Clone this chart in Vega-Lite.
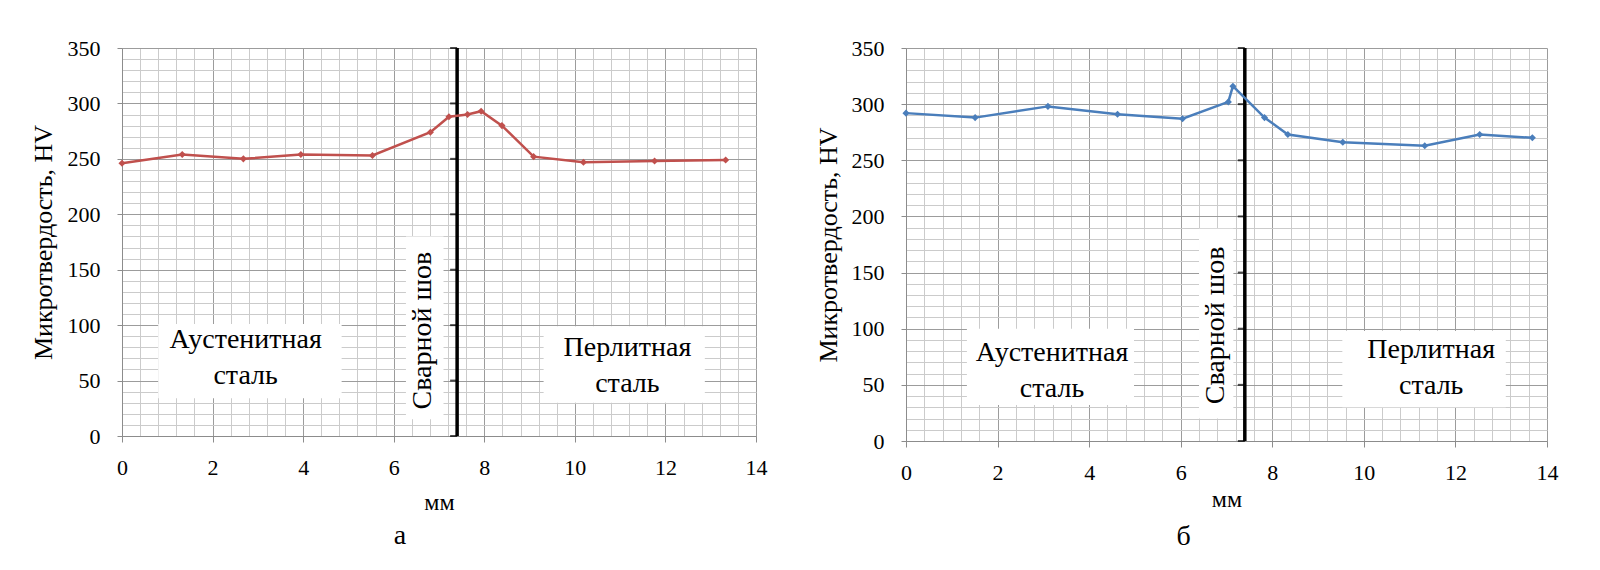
{
  "$schema": "https://vega.github.io/schema/vega-lite/v6.json",
  "background": "white",
  "padding": {"left": 30, "top": 37, "right": 5, "bottom": 5},
  "spacing": 48,
  "datasets": {
    "a": [
      {"mm": 0, "hv": 246}, {"mm": 1.33, "hv": 254}, {"mm": 2.68, "hv": 250},
      {"mm": 3.95, "hv": 254}, {"mm": 5.53, "hv": 253}, {"mm": 6.81, "hv": 274},
      {"mm": 7.22, "hv": 288}, {"mm": 7.63, "hv": 290}, {"mm": 7.93, "hv": 293},
      {"mm": 8.39, "hv": 280}, {"mm": 9.09, "hv": 252}, {"mm": 10.19, "hv": 247},
      {"mm": 11.76, "hv": 248}, {"mm": 13.33, "hv": 249}
    ],
    "b": [
      {"mm": 0, "hv": 292}, {"mm": 1.51, "hv": 288}, {"mm": 3.1, "hv": 298},
      {"mm": 4.62, "hv": 291}, {"mm": 6.04, "hv": 287}, {"mm": 7.04, "hv": 302},
      {"mm": 7.14, "hv": 316}, {"mm": 7.83, "hv": 288}, {"mm": 8.34, "hv": 273},
      {"mm": 9.54, "hv": 266}, {"mm": 11.33, "hv": 263}, {"mm": 12.53, "hv": 273},
      {"mm": 13.68, "hv": 270}
    ],
    "hvTicks": [
      {"hv": 0}, {"hv": 50}, {"hv": 100}, {"hv": 150},
      {"hv": 200}, {"hv": 250}, {"hv": 300}, {"hv": 350}
    ],
    "one": [{"n": 1}]
  },
  "hconcat": [
    {
      "width": 634,
      "height": 388,
      "title": {"text": "а", "orient": "bottom", "anchor": "middle", "fontSize": 28, "fontWeight": "normal", "font": "Liberation Serif", "color": "black", "offset": 8, "dx": -39},
      "encoding": {
        "x": {
          "type": "quantitative",
          "scale": {"domain": [0, 14], "nice": false},
          "axis": {
            "title": "мм", "titlePadding": 12, "format": "~g", "grid": true,
            "values": [0, 0.4, 0.8, 1.2, 1.6, 2, 2.4, 2.8, 3.2, 3.6, 4, 4.4, 4.8, 5.2, 5.6, 6, 6.4, 6.8, 7.2, 7.6, 8, 8.4, 8.8, 9.2, 9.6, 10, 10.4, 10.8, 11.2, 11.6, 12, 12.4, 12.8, 13.2, 13.6, 14],
            "labelExpr": "datum.value % 2 === 0 ? datum.label : ''",
            "gridColor": {"condition": {"test": "datum.value % 2 === 0", "value": "#9c9c9c"}, "value": "#cbcbcb"},
            "tickColor": {"condition": {"test": "datum.value % 2 === 0", "value": "#8c8c8c"}, "value": "transparent"},
            "tickSize": 6, "labelPadding": 15
          }
        },
        "y": {
          "type": "quantitative",
          "scale": {"domain": [0, 350], "nice": false},
          "axis": {
            "title": "Микротвердость, HV", "titlePadding": 11, "format": "d", "grid": true,
            "values": [0, 10, 20, 30, 40, 50, 60, 70, 80, 90, 100, 110, 120, 130, 140, 150, 160, 170, 180, 190, 200, 210, 220, 230, 240, 250, 260, 270, 280, 290, 300, 310, 320, 330, 340, 350],
            "labelExpr": "datum.value % 50 === 0 ? datum.label : ''",
            "gridColor": {"condition": {"test": "datum.value % 50 === 0", "value": "#9c9c9c"}, "value": "#cbcbcb"},
            "tickColor": {"condition": {"test": "datum.value % 50 === 0", "value": "#8c8c8c"}, "value": "transparent"},
            "tickSize": 5, "labelPadding": 17
          }
        }
      },
      "layer": [
        {
          "data": {"name": "one"},
          "mark": {"type": "rect", "fill": "white"},
          "encoding": {"x": {"datum": 0.8}, "x2": {"datum": 4.85}, "y": {"datum": 101}, "y2": {"datum": 34}}
        },
        {
          "data": {"name": "one"},
          "mark": {"type": "rect", "fill": "white"},
          "encoding": {"x": {"datum": 6.27}, "x2": {"datum": 7.1}, "y": {"datum": 180}, "y2": {"datum": 15}}
        },
        {
          "data": {"name": "one"},
          "mark": {"type": "rect", "fill": "white"},
          "encoding": {"x": {"datum": 9.31}, "x2": {"datum": 12.87}, "y": {"datum": 99}, "y2": {"datum": 30}}
        },
        {
          "data": {"name": "one"},
          "mark": {"type": "rule", "color": "black", "strokeWidth": 3.5},
          "encoding": {"x": {"datum": 7.4}, "y": {"datum": 0}, "y2": {"datum": 350}}
        },
        {
          "data": {"name": "hvTicks"},
          "mark": {"type": "tick", "orient": "horizontal", "color": "black", "size": 7, "thickness": 2, "xOffset": -3.5},
          "encoding": {"x": {"datum": 7.4}, "y": {"field": "hv"}}
        },
        {
          "data": {"name": "a"},
          "mark": {"type": "line", "color": "#C0504D", "strokeWidth": 2.5, "point": {"shape": "diamond", "size": 50, "filled": true, "color": "#C0504D"}},
          "encoding": {"x": {"field": "mm"}, "y": {"field": "hv"}}
        },
        {
          "data": {"name": "one"},
          "mark": {"type": "text", "font": "Liberation Serif", "fontSize": 28, "lineBreak": "\n", "lineHeight": 36, "align": "center", "baseline": "middle", "color": "black"},
          "encoding": {"x": {"datum": 2.73}, "y": {"datum": 86.5}, "text": {"value": "Аустенитная\nсталь"}}
        },
        {
          "data": {"name": "one"},
          "mark": {"type": "text", "font": "Liberation Serif", "fontSize": 28, "angle": 270, "align": "center", "baseline": "middle", "color": "black"},
          "encoding": {"x": {"datum": 6.65}, "y": {"datum": 95}, "text": {"value": "Сварной шов"}}
        },
        {
          "data": {"name": "one"},
          "mark": {"type": "text", "font": "Liberation Serif", "fontSize": 28, "lineBreak": "\n", "lineHeight": 36, "align": "center", "baseline": "middle", "color": "black"},
          "encoding": {"x": {"datum": 11.16}, "y": {"datum": 79.5}, "text": {"value": "Перлитная\nсталь"}}
        }
      ]
    },
    {
      "width": 641,
      "height": 393,
      "title": {"text": "б", "orient": "bottom", "anchor": "middle", "fontSize": 28, "fontWeight": "normal", "font": "Liberation Serif", "color": "black", "offset": 12, "dx": -43},
      "encoding": {
        "x": {
          "type": "quantitative",
          "scale": {"domain": [0, 14], "nice": false},
          "axis": {
            "title": "мм", "titlePadding": 4, "format": "~g", "grid": true,
            "values": [0, 0.4, 0.8, 1.2, 1.6, 2, 2.4, 2.8, 3.2, 3.6, 4, 4.4, 4.8, 5.2, 5.6, 6, 6.4, 6.8, 7.2, 7.6, 8, 8.4, 8.8, 9.2, 9.6, 10, 10.4, 10.8, 11.2, 11.6, 12, 12.4, 12.8, 13.2, 13.6, 14],
            "labelExpr": "datum.value % 2 === 0 ? datum.label : ''",
            "gridColor": {"condition": {"test": "datum.value % 2 === 0", "value": "#9c9c9c"}, "value": "#cbcbcb"},
            "tickColor": {"condition": {"test": "datum.value % 2 === 0", "value": "#8c8c8c"}, "value": "transparent"},
            "tickSize": 6, "labelPadding": 15
          }
        },
        "y": {
          "type": "quantitative",
          "scale": {"domain": [0, 350], "nice": false},
          "axis": {
            "title": "Микротвердость, HV", "titlePadding": 10, "format": "d", "grid": true,
            "values": [0, 10, 20, 30, 40, 50, 60, 70, 80, 90, 100, 110, 120, 130, 140, 150, 160, 170, 180, 190, 200, 210, 220, 230, 240, 250, 260, 270, 280, 290, 300, 310, 320, 330, 340, 350],
            "labelExpr": "datum.value % 50 === 0 ? datum.label : ''",
            "gridColor": {"condition": {"test": "datum.value % 50 === 0", "value": "#9c9c9c"}, "value": "#cbcbcb"},
            "tickColor": {"condition": {"test": "datum.value % 50 === 0", "value": "#8c8c8c"}, "value": "transparent"},
            "tickSize": 5, "labelPadding": 17
          }
        }
      },
      "layer": [
        {
          "data": {"name": "one"},
          "mark": {"type": "rect", "fill": "white"},
          "encoding": {"x": {"datum": 1.33}, "x2": {"datum": 4.98}, "y": {"datum": 100}, "y2": {"datum": 32}}
        },
        {
          "data": {"name": "one"},
          "mark": {"type": "rect", "fill": "white"},
          "encoding": {"x": {"datum": 6.4}, "x2": {"datum": 7.15}, "y": {"datum": 189}, "y2": {"datum": 20}}
        },
        {
          "data": {"name": "one"},
          "mark": {"type": "rect", "fill": "white"},
          "encoding": {"x": {"datum": 9.53}, "x2": {"datum": 13.1}, "y": {"datum": 98}, "y2": {"datum": 30}}
        },
        {
          "data": {"name": "one"},
          "mark": {"type": "rule", "color": "black", "strokeWidth": 3.5},
          "encoding": {"x": {"datum": 7.4}, "y": {"datum": 0}, "y2": {"datum": 350}}
        },
        {
          "data": {"name": "hvTicks"},
          "mark": {"type": "tick", "orient": "horizontal", "color": "black", "size": 7, "thickness": 2, "xOffset": -3.5},
          "encoding": {"x": {"datum": 7.4}, "y": {"field": "hv"}}
        },
        {
          "data": {"name": "b"},
          "mark": {"type": "line", "color": "#4A7EBB", "strokeWidth": 2.5, "point": {"shape": "diamond", "size": 50, "filled": true, "color": "#4A7EBB"}},
          "encoding": {"x": {"field": "mm"}, "y": {"field": "hv"}}
        },
        {
          "data": {"name": "one"},
          "mark": {"type": "text", "font": "Liberation Serif", "fontSize": 28, "lineBreak": "\n", "lineHeight": 36, "align": "center", "baseline": "middle", "color": "black"},
          "encoding": {"x": {"datum": 3.19}, "y": {"datum": 78}, "text": {"value": "Аустенитная\nсталь"}}
        },
        {
          "data": {"name": "one"},
          "mark": {"type": "text", "font": "Liberation Serif", "fontSize": 28, "angle": 270, "align": "center", "baseline": "middle", "color": "black"},
          "encoding": {"x": {"datum": 6.77}, "y": {"datum": 103}, "text": {"value": "Сварной шов"}}
        },
        {
          "data": {"name": "one"},
          "mark": {"type": "text", "font": "Liberation Serif", "fontSize": 28, "lineBreak": "\n", "lineHeight": 36, "align": "center", "baseline": "middle", "color": "black"},
          "encoding": {"x": {"datum": 11.47}, "y": {"datum": 81}, "text": {"value": "Перлитная\nсталь"}}
        }
      ]
    }
  ],
  "config": {
    "font": "Liberation Serif",
    "view": {"stroke": null},
    "text": {"font": "Liberation Serif"},
    "axis": {
      "labelFont": "Liberation Serif",
      "titleFont": "Liberation Serif",
      "labelFontSize": 22,
      "labelColor": "black",
      "titleColor": "black",
      "titleFontWeight": "normal",
      "labelFlush": false,
      "labelOverlap": false,
      "domainColor": "#8c8c8c",
      "gridWidth": 1
    },
    "axisX": {"titleFontSize": 24},
    "axisY": {"titleFontSize": 26}
  }
}
